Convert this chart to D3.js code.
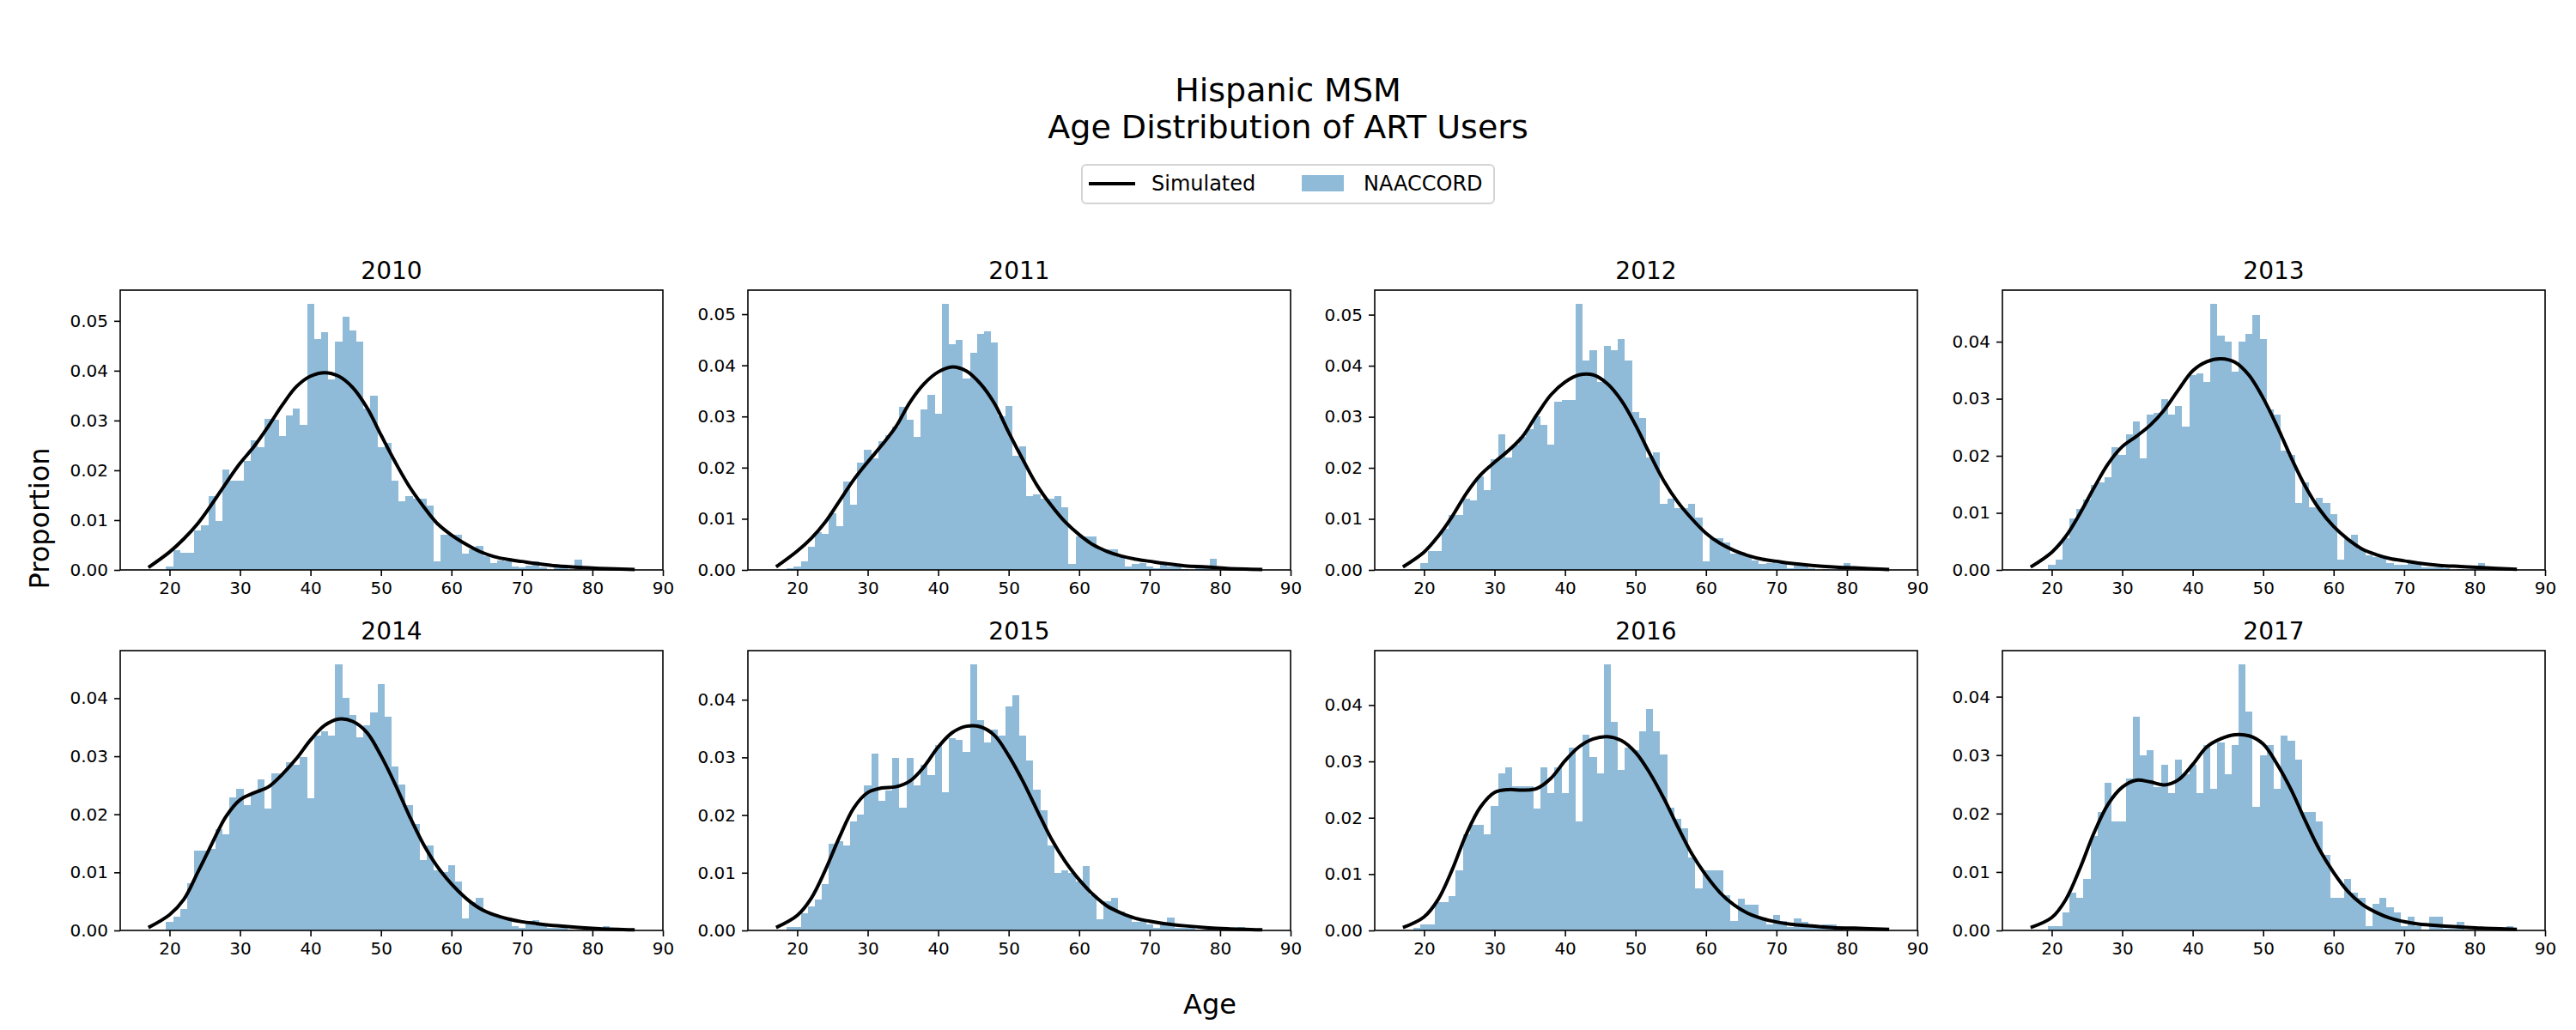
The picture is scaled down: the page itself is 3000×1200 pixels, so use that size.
<!DOCTYPE html>
<html>
<head>
<meta charset="utf-8">
<script src="https://cdn.jsdelivr.net/npm/d3@7"></script>
<style>
  body { margin: 0; background: #fff; }
  svg { display: block; }
  text { font-family: "DejaVu Sans", sans-serif; fill: #000; }
</style>
</head>
<body>
<script>
const W = 3000, H = 1200;

const titleLines = ["Hispanic MSM", "Age Distribution of ART Users"];
const legendLabels = ["Simulated", "NAACCORD"];
const years = ["2010", "2011", "2012", "2013", "2014", "2015", "2016", "2017"];
const xTicks = [20, 30, 40, 50, 60, 70, 80, 90];

// left edge of the first 1-year bin for each year
const binStarts = [19.5, 18.5, 19.5, 19.5, 17.5, 18.5, 18.5, 19.5];

// NAACCORD histogram proportions (1-year bins)
const hist2010 = [0.0007,0.0040,0.0035,0.0035,0.0080,0.0090,0.0149,0.0099,0.0202,0.0180,
  0.0180,0.0219,0.0260,0.0247,0.0304,0.0301,0.0269,0.0310,0.0324,0.0291,
  0.0535,0.0463,0.0477,0.0383,0.0458,0.0508,0.0480,0.0458,0.0324,0.0350,
  0.0247,0.0255,0.0180,0.0138,0.0148,0.0143,0.0143,0.0130,0.0018,0.0071,
  0.0071,0.0071,0.0032,0.0042,0.0049,0.0028,0.0013,0.0019,0.0017,0.0007,
  0.0005,0.0009,0.0017,0.0005,0,0.0005,0.0005,0,0.0021,0,
  0,0,0,0,0.0003];
const hist2011 = [0.0004,0.0007,0.0016,0.0045,0.0074,0.0070,0.0111,0.0086,0.0173,0.0128,
  0.0210,0.0235,0.0218,0.0251,0.0264,0.0280,0.0319,0.0293,0.0260,0.0313,
  0.0342,0.0305,0.0521,0.0442,0.0450,0.0375,0.0425,0.0462,0.0467,0.0445,
  0.0300,0.0321,0.0224,0.0242,0.0145,0.0148,0.0139,0.0139,0.0144,0.0123,
  0.0012,0.0066,0.0066,0.0066,0.0043,0.0041,0.0041,0.0026,0.0007,0.0012,
  0.0014,0.0007,0.0004,0.0012,0.0007,0.0006,0.0002,0,0.0003,0.0003,
  0.0021,0,0,0,0,0,0.0003];
const hist2012 = [0.0014,0.0037,0.0037,0.0081,0.0108,0.0108,0.0140,0.0136,0.0183,0.0157,
  0.0217,0.0266,0.0220,0.0246,0.0260,0.0276,0.0301,0.0284,0.0246,0.0329,
  0.0333,0.0333,0.0522,0.0410,0.0430,0.0368,0.0438,0.0430,0.0452,0.0410,
  0.0310,0.0297,0.0221,0.0230,0.0130,0.0140,0.0121,0.0121,0.0130,0.0102,
  0.0017,0.0063,0.0063,0.0053,0.0032,0.0032,0.0027,0.0018,0.0011,0.0013,
  0.0013,0.0013,0.0004,0.0008,0.0008,0.0003,0,0.0002,0,0.0002,
  0.0014];
const hist2013 = [0.0009,0.0018,0.0055,0.0090,0.0107,0.0123,0.0149,0.0153,0.0162,0.0215,
  0.0201,0.0237,0.0260,0.0195,0.0273,0.0276,0.0300,0.0273,0.0287,0.0251,
  0.0342,0.0345,0.0329,0.0467,0.0411,0.0400,0.0348,0.0400,0.0414,0.0447,
  0.0404,0.0281,0.0273,0.0209,0.0201,0.0117,0.0153,0.0110,0.0126,0.0117,
  0.0098,0.0018,0.0054,0.0062,0.0036,0.0026,0.0023,0.0023,0.0012,0.0009,
  0.0009,0.0017,0.0012,0.0004,0.0005,0.0005,0.0003,0,0.0002,0,
  0.0002,0.0012];
const hist2014 = [0.0001,0.0002,0.0015,0.0024,0.0037,0.0082,0.0138,0.0138,0.0141,0.0175,
  0.0166,0.0229,0.0244,0.0216,0.0237,0.0260,0.0210,0.0270,0.0270,0.0290,
  0.0285,0.0298,0.0227,0.0336,0.0343,0.0336,0.0459,0.0401,0.0371,0.0333,
  0.0354,0.0376,0.0424,0.0368,0.0283,0.0251,0.0216,0.0183,0.0121,0.0146,
  0.0103,0.0101,0.0113,0.0084,0.0021,0.0049,0.0056,0.0031,0.0026,0.0022,
  0.0022,0.0008,0.0005,0.0012,0.0018,0.0009,0.0004,0.0005,0.0005,0.0002,
  0,0.0002,0,0,0.0007];
const hist2015 = [0.0006,0.0006,0.0030,0.0042,0.0054,0.0081,0.0150,0.0155,0.0147,0.0189,
  0.0201,0.0251,0.0306,0.0225,0.0243,0.0299,0.0213,0.0299,0.0251,0.0287,
  0.0270,0.0321,0.0240,0.0333,0.0330,0.0309,0.0462,0.0364,0.0326,0.0348,
  0.0338,0.0388,0.0407,0.0338,0.0295,0.0244,0.0208,0.0148,0.0100,0.0104,
  0.0100,0.0085,0.0112,0.0061,0.0019,0.0051,0.0057,0.0032,0.0027,0.0015,
  0.0016,0.0011,0.0004,0.0010,0.0023,0.0004,0.0004,0.0004,0.0002,0.0002,
  0,0,0,0,0.0006];
const hist2016 = [0.0005,0.0011,0.0011,0.0051,0.0051,0.0061,0.0107,0.0171,0.0188,0.0188,
  0.0171,0.0221,0.0279,0.0289,0.0256,0.0256,0.0256,0.0217,0.0289,0.0244,
  0.0289,0.0244,0.0324,0.0194,0.0347,0.0308,0.0279,0.0473,0.0370,0.0285,
  0.0324,0.0320,0.0353,0.0393,0.0353,0.0312,0.0218,0.0198,0.0181,0.0130,
  0.0074,0.0107,0.0107,0.0107,0.0062,0.0017,0.0056,0.0045,0.0045,0.0023,
  0.0011,0.0028,0.0017,0.0006,0.0022,0.0015,0.0006,0.0004,0.0011,0.0011,
  0.0002];
const hist2017 = [0.0007,0.0007,0.0031,0.0065,0.0056,0.0088,0.0161,0.0202,0.0252,0.0186,
  0.0186,0.0260,0.0365,0.0300,0.0308,0.0245,0.0284,0.0235,0.0292,0.0268,
  0.0284,0.0235,0.0317,0.0243,0.0321,0.0268,0.0317,0.0456,0.0374,0.0211,
  0.0300,0.0317,0.0243,0.0333,0.0325,0.0292,0.0202,0.0202,0.0186,0.0129,
  0.0056,0.0056,0.0088,0.0065,0.0056,0.0007,0.0045,0.0056,0.0040,0.0031,
  0.0007,0.0023,0.0007,0.0002,0.0023,0.0023,0.0003,0.0003,0.0015,0.0002,
  0,0,0,0,0,0.0007];

// Simulated density, read at these ages
const curveAges = [17,20,22,24,26,28,30,32,34,36,38,40,42,44,46,48,50,52,54,56,58,60,62,64,66,68,70,72,75,78,81,86];
const kde2010 = [0.0005,0.0036,0.0062,0.0093,0.0132,0.0174,0.0214,0.0248,0.0288,0.0331,0.0368,0.0389,0.0396,0.0389,0.0366,0.0326,
  0.0271,0.0217,0.0168,0.0128,0.0093,0.0070,0.0052,0.0037,0.0027,0.0021,0.0017,0.0013,0.0008,0.0005,0.0003,0.0001];
const kde2011 = [0.0006,0.0037,0.0062,0.0094,0.0135,0.0176,0.0211,0.0244,0.0280,0.0328,0.0364,0.0387,0.0397,0.0389,0.0364,0.0325,
  0.0269,0.0216,0.0166,0.0127,0.0094,0.0069,0.0049,0.0036,0.0027,0.0021,0.0017,0.0013,0.0008,0.0006,0.0003,0.0001];
const kde2012 = [0.0006,0.0035,0.0066,0.0105,0.0150,0.0186,0.0211,0.0234,0.0262,0.0304,0.0343,0.0368,0.0382,0.0382,0.0365,0.0332,
  0.0284,0.0228,0.0175,0.0133,0.0100,0.0072,0.0052,0.0038,0.0028,0.0021,0.0017,0.0013,0.0009,0.0006,0.0004,0.0001];
const kde2013 = [0.0005,0.0031,0.0059,0.0099,0.0144,0.0186,0.0216,0.0234,0.0254,0.0281,0.0316,0.0349,0.0365,0.0370,0.0364,0.0341,
  0.0301,0.0251,0.0196,0.0146,0.0106,0.0076,0.0054,0.0037,0.0027,0.0020,0.0016,0.0012,0.0008,0.0006,0.0004,0.0001];
const kde2014 = [0.0005,0.0027,0.0053,0.0100,0.0149,0.0196,0.0225,0.0237,0.0247,0.0269,0.0296,0.0328,0.0353,0.0364,0.0360,0.0341,
  0.0301,0.0252,0.0198,0.0149,0.0110,0.0080,0.0056,0.0038,0.0027,0.0020,0.0015,0.0012,0.0008,0.0005,0.0003,0.0001];
const kde2015 = [0.0005,0.0026,0.0056,0.0105,0.0162,0.0212,0.0239,0.0247,0.0249,0.0259,0.0284,0.0318,0.0343,0.0354,0.0353,0.0338,
  0.0303,0.0259,0.0209,0.0160,0.0120,0.0088,0.0062,0.0042,0.0030,0.0021,0.0016,0.0012,0.0008,0.0005,0.0003,0.0001];
const kde2016 = [0.0005,0.0024,0.0055,0.0108,0.0171,0.0219,0.0245,0.0250,0.0249,0.0252,0.0270,0.0301,0.0326,0.0340,0.0344,0.0337,
  0.0316,0.0280,0.0235,0.0184,0.0136,0.0098,0.0067,0.0045,0.0030,0.0021,0.0015,0.0011,0.0008,0.0005,0.0004,0.0002];
const kde2017 = [0.0005,0.0022,0.0053,0.0106,0.0167,0.0216,0.0245,0.0257,0.0254,0.0249,0.0258,0.0284,0.0314,0.0328,0.0335,0.0333,
  0.0319,0.0284,0.0240,0.0187,0.0138,0.0099,0.0067,0.0045,0.0031,0.0021,0.0015,0.0011,0.0008,0.0006,0.0004,0.0002];

const histData = [hist2010, hist2011, hist2012, hist2013, hist2014, hist2015, hist2016, hist2017];
const kdeData = [kde2010, kde2011, kde2012, kde2013, kde2014, kde2015, kde2016, kde2017];

const barColor = "rgb(143,187,217)";
const panelW = 632, panelH = 326;
const colLefts = [140, 871, 1601, 2332];
const rowTops = [338, 758];

const svg = d3.select("body").append("svg")
  .attr("width", W)
  .attr("height", H);

svg.append("rect").attr("width", W).attr("height", H).attr("fill", "#fff");

years.forEach((yr, i) => {
  const g = svg.append("g")
    .attr("transform", "translate(" + colLefts[i % 4] + "," + rowTops[Math.floor(i / 4)] + ")");

  const hist = histData[i];
  const start = binStarts[i];
  const x = d3.scaleLinear().domain([13, 90]).range([0, panelW]);
  const yMax = d3.max(hist) * 1.05;
  const y = d3.scaleLinear().domain([0, yMax]).range([panelH, 0]);

  g.append("g")
    .attr("shape-rendering", "crispEdges")
    .selectAll("rect")
    .data(hist)
    .enter()
    .append("rect")
    .attr("x", (d, j) => x(start + j))
    .attr("width", (d, j) => x(start + j + 1) - x(start + j))
    .attr("y", (d) => y(d))
    .attr("height", (d) => panelH - y(d))
    .attr("fill", barColor);

  const pts = curveAges.map((a, j) => [a, kdeData[i][j]]);
  const line = d3.line()
    .x((d) => x(d[0]))
    .y((d) => y(d[1]))
    .curve(d3.curveCatmullRom);

  g.append("path")
    .datum(pts)
    .attr("d", line)
    .attr("fill", "none")
    .attr("stroke", "#000")
    .attr("stroke-width", 4)
    .attr("stroke-linejoin", "round");

  const xAxis = d3.axisBottom(x).tickValues(xTicks).tickSize(7).tickPadding(7).tickFormat(d3.format("d"));
  const yAxis = d3.axisLeft(y).tickValues(d3.range(0, yMax, 0.01)).tickSize(7).tickPadding(7).tickFormat(d3.format(".2f"));

  const gx = g.append("g")
    .attr("transform", "translate(0," + panelH + ")")
    .call(xAxis);
  const gy = g.append("g").call(yAxis);

  [gx, gy].forEach((ax) => {
    ax.attr("font-size", 20).attr("font-family", "DejaVu Sans, sans-serif");
    ax.select(".domain").remove();
    ax.selectAll(".tick line").attr("stroke", "#000").attr("stroke-width", 1.6);
    ax.selectAll(".tick text").attr("fill", "#000");
  });

  g.append("rect")
    .attr("width", panelW)
    .attr("height", panelH)
    .attr("fill", "none")
    .attr("stroke", "#000")
    .attr("stroke-width", 1.6);

  g.append("text")
    .attr("x", panelW / 2)
    .attr("y", -13)
    .attr("text-anchor", "middle")
    .attr("font-size", 28)
    .text(yr);
});

// suptitle
svg.selectAll(".suptitle")
  .data(titleLines)
  .enter()
  .append("text")
  .attr("class", "suptitle")
  .attr("x", W / 2)
  .attr("y", (d, i) => 118 + i * 43)
  .attr("text-anchor", "middle")
  .attr("font-size", 38)
  .text((d) => d);

// legend
const lg = svg.append("g");
lg.append("rect")
  .attr("x", 1260).attr("y", 192)
  .attr("width", 480).attr("height", 45)
  .attr("rx", 5)
  .attr("fill", "#fff")
  .attr("stroke", "#d4d4d4")
  .attr("stroke-width", 2);
lg.append("line")
  .attr("x1", 1268).attr("x2", 1322)
  .attr("y1", 214).attr("y2", 214)
  .attr("stroke", "#000").attr("stroke-width", 4);
lg.append("rect")
  .attr("x", 1516).attr("y", 204)
  .attr("width", 49).attr("height", 19)
  .attr("fill", barColor);
lg.selectAll(".lgtext")
  .data(legendLabels)
  .enter()
  .append("text")
  .attr("class", "lgtext")
  .attr("x", (d, i) => i === 0 ? 1341 : 1588)
  .attr("y", 214)
  .attr("dominant-baseline", "central")
  .attr("font-size", 24)
  .text((d) => d);

// axis labels
svg.append("text")
  .attr("transform", "translate(46,604) rotate(-90)")
  .attr("text-anchor", "middle")
  .attr("dominant-baseline", "central")
  .attr("font-size", 32)
  .text("Proportion");

svg.append("text")
  .attr("x", 1409)
  .attr("y", 1170)
  .attr("text-anchor", "middle")
  .attr("dominant-baseline", "central")
  .attr("font-size", 32)
  .text("Age");
</script>
</body>
</html>
